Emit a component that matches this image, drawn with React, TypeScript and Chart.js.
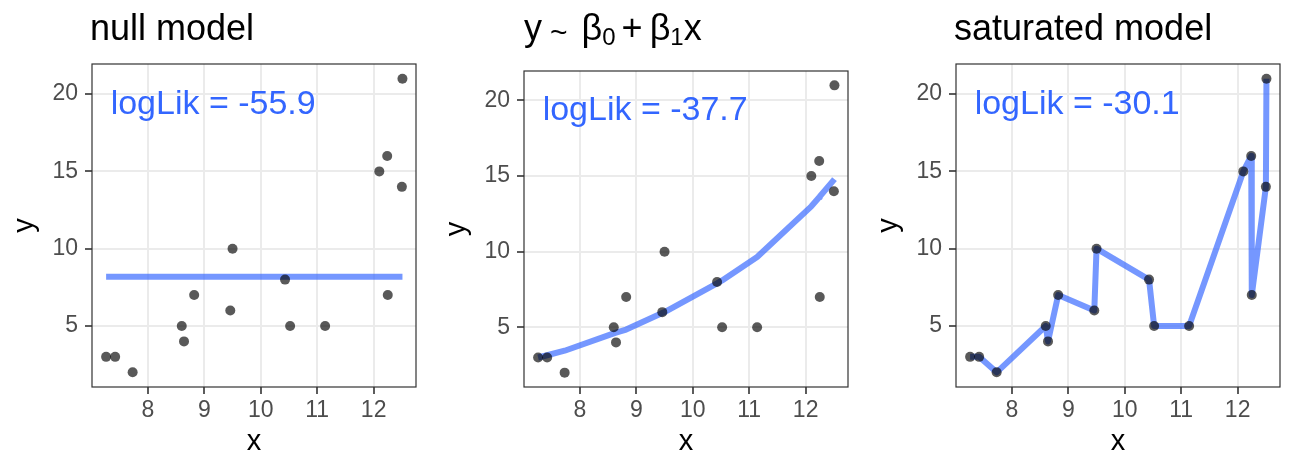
import React, { useEffect, useRef } from "react";
import { Chart, registerables } from "chart.js";

Chart.register(...registerables);

// ---- data ----
const xValues = [7.26, 7.42, 7.73, 8.6, 8.64, 8.82, 9.46, 9.5, 10.43, 10.52, 11.14, 12.1, 12.24, 12.25, 12.5, 12.51];
const yValues = [3, 3, 2, 5, 4, 7, 6, 10, 8, 5, 5, 15, 16, 7, 14, 21];

const nullFitX = [7.26, 12.51];
const nullFitY = [8.19, 8.19];

const linearFitY = [3.0, 3.15, 3.45, 4.6, 4.65, 4.85, 5.95, 6.0, 7.9, 8.1, 9.65, 13.0, 13.6, 13.65, 14.75, 14.8];

const saturatedFitY = [3, 3, 2, 5, 4, 7, 6, 10, 8, 5, 5, 15, 16, 7, 14, 21];

const xTicks = [8, 9, 10, 11, 12];
const yTicks = [5, 10, 15, 20];

const logLikLabels = ["logLik = -55.9", "logLik = -37.7", "logLik = -30.1"];
const labelX = 7.34;
const labelY = 18.7;

const xMin = 7.01;
const xMax = 12.75;
const yMin = 1.05;
const yMax = 21.95;

const FONT = '"Liberation Sans", Arial, Helvetica, sans-serif';
const PANEL_W = 432;
const PANEL_H = 475;

const framePlugin = {
  id: "frame",
  afterDatasetsDraw(chart: any, _args: any, opts: any) {
    const { ctx, scales } = chart;
    ctx.save();
    ctx.font = `34px ${FONT}`;
    ctx.fillStyle = "#3366FF";
    ctx.textAlign = "left";
    ctx.textBaseline = "alphabetic";
    ctx.fillText(opts.label, scales.x.getPixelForValue(labelX), scales.y.getPixelForValue(labelY));
    ctx.restore();
  },
  afterDraw(chart: any) {
    const { ctx, chartArea: a } = chart;
    ctx.save();
    ctx.strokeStyle = "#333333";
    ctx.lineWidth = 1.2;
    ctx.strokeRect(a.left, a.top, a.right - a.left, a.bottom - a.top);
    ctx.restore();
  },
};

type PanelProps = {
  lineX: number[];
  lineY: number[];
  label: string;
  topPad: number;
  title: React.ReactNode;
};

function Panel({ lineX, lineY, label, topPad, title }: PanelProps) {
  const ref = useRef<HTMLCanvasElement | null>(null);
  useEffect(() => {
    if (!ref.current) return;
    const points = xValues.map((x, i) => ({ x, y: yValues[i] }));
    const line = lineX.map((x, i) => ({ x, y: lineY[i] }));
    const chart = new Chart(ref.current, {
      type: "scatter",
      data: {
        datasets: [
          {
            type: "scatter",
            data: points,
            pointRadius: 5,
            pointHoverRadius: 5,
            pointBackgroundColor: "rgba(0,0,0,0.65)",
            pointBorderWidth: 0,
            borderColor: "rgba(0,0,0,0)",
            order: 0,
          } as any,
          {
            type: "line",
            data: line,
            showLine: true,
            borderColor: "rgba(51,102,255,0.68)",
            borderWidth: 6,
            borderJoinStyle: "round",
            borderCapStyle: "butt",
            pointRadius: 0,
            tension: 0,
            fill: false,
            order: 1,
          } as any,
        ],
      },
      options: {
        animation: false,
        responsive: false,
        maintainAspectRatio: false,
        devicePixelRatio: 1,
        events: [],
        layout: { padding: { left: 0, right: 16, top: topPad, bottom: 0 } },
        plugins: {
          legend: { display: false },
          tooltip: { enabled: false },
          title: { display: false },
          frame: { label },
        } as any,
        scales: {
          x: {
            type: "linear",
            min: xMin,
            max: xMax,
            afterBuildTicks: (s: any) => {
              s.ticks = xTicks.map((v) => ({ value: v }));
            },
            afterFit: (s: any) => {
              s.height = 88;
            },
            grid: {
              color: "#EBEBEB",
              lineWidth: 2,
              drawTicks: true,
              tickLength: 7,
              tickColor: "#333333",
              tickWidth: 1.6,
            },
            border: { display: false },
            ticks: {
              autoSkip: false,
              maxRotation: 0,
              padding: 3,
              color: "#4D4D4D",
              font: { family: FONT, size: 23 },
              callback: (v: any) => String(v),
            },
            title: {
              display: true,
              text: "x",
              color: "#000000",
              font: { family: FONT, size: 29, lineHeight: 1.2 },
              padding: { top: 0, bottom: 16 },
            },
          },
          y: {
            type: "linear",
            min: yMin,
            max: yMax,
            afterBuildTicks: (s: any) => {
              s.ticks = yTicks.map((v) => ({ value: v }));
            },
            afterFit: (s: any) => {
              s.width = 92;
            },
            grid: {
              color: "#EBEBEB",
              lineWidth: 2,
              drawTicks: true,
              tickLength: 7,
              tickColor: "#333333",
              tickWidth: 1.6,
            },
            border: { display: false },
            ticks: {
              autoSkip: false,
              padding: 7,
              color: "#4D4D4D",
              font: { family: FONT, size: 23 },
              callback: (v: any) => String(v),
            },
            title: {
              display: true,
              text: "y",
              color: "#000000",
              font: { family: FONT, size: 29, lineHeight: 1.2 },
              padding: { top: 8, bottom: 0 },
            },
          },
        },
      } as any,
      plugins: [framePlugin as any],
    });
    return () => chart.destroy();
  }, []);

  return (
    <div style={{ position: "relative", width: PANEL_W, height: PANEL_H }}>
      <canvas ref={ref} width={PANEL_W} height={PANEL_H} style={{ display: "block", width: PANEL_W, height: PANEL_H }} />
      {title}
    </div>
  );
}

const titleStyle: React.CSSProperties = {
  position: "absolute",
  top: 10,
  fontFamily: FONT,
  fontSize: 36,
  lineHeight: "36px",
  color: "#000000",
  whiteSpace: "nowrap",
};

const subStyle: React.CSSProperties = { fontSize: 24, position: "relative", top: 5 };

export default function App() {
  return (
    <div style={{ position: "absolute", left: 0, top: 0, width: 1296, height: 475, display: "flex", background: "#FFFFFF" }}>
      <Panel
        lineX={nullFitX}
        lineY={nullFitY}
        label={logLikLabels[0]}
        topPad={64}
        title={<div style={{ ...titleStyle, left: 90 }}>null model</div>}
      />
      <Panel
        lineX={xValues}
        lineY={linearFitY}
        label={logLikLabels[1]}
        topPad={71}
        title={
          <div style={{ ...titleStyle, left: 92 }}>
            <span>y</span>
            <span style={{ fontSize: 30, marginLeft: 8, position: "relative", top: 2 }}>~</span>
            <span style={{ marginLeft: 14 }}>β</span>
            <span style={subStyle}>0</span>
            <span style={{ marginLeft: 6 }}>+</span>
            <span style={{ marginLeft: 7 }}>β</span>
            <span style={subStyle}>1</span>
            <span style={{ marginLeft: 0 }}>x</span>
          </div>
        }
      />
      <Panel
        lineX={xValues}
        lineY={saturatedFitY}
        label={logLikLabels[2]}
        topPad={64}
        title={<div style={{ ...titleStyle, left: 90 }}>saturated model</div>}
      />
    </div>
  );
}
